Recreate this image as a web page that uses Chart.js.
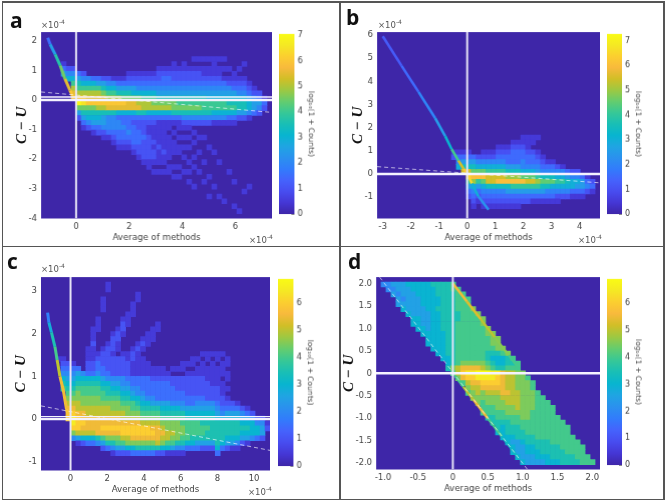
<!DOCTYPE html>
<html><head><meta charset="utf-8">
<script src="https://cdn.jsdelivr.net/npm/chart.js@4"></script>
<style>
html,body{margin:0;padding:0;background:#fff;width:668px;height:501px;overflow:hidden}
canvas{position:absolute;display:block;filter:blur(.55px)}
.frame{position:absolute;background:#555}
.tag{position:absolute;font:bold 21px "Open Sans",sans-serif;color:#111;line-height:21px}
.mult{position:absolute;font:8.5px "DejaVu Sans",sans-serif;color:#555;line-height:10px;white-space:nowrap}
.mult sup{font-size:6px;line-height:0}
</style></head><body>
<script>
// Parula colour stops, bottom to top of the colour bar
const parulaStops=[[62,38,168],[69,55,213],[72,77,240],[69,99,253],[50,124,252],[43,145,239],[32,165,227],[8,181,208],[25,191,182],[55,200,151],[100,205,111],[157,201,67],[209,191,39],[248,186,61],[252,207,48],[245,233,36],[249,251,21]];

// Binned counts, log10(1+counts), in half-unit steps (0-9 then a-e).
// Each entry is one column (or row in panel d): "firstBin:levels;firstBin:levels"
const aColumns=["","","","","6:135","7:246","7:2468abc","8:3578ace952","8:2468acd97531","9:468abc97642","9:368abc976531","9:358abca76532","9:2579bca755421","9:2468acb744431","9:1468acb7444321","9:1357acb63443321","9:13579cb63343321","8:123579bb63334321","8:123569bb632333321","8:123469ab7322333221","8:123468aa73222322221","8:123468aa632112222211","8:1234689a6321112122101","7:12234579a6311111211101","7:12334579a6311111121101","7:12334579a6311011111011","6:112234579973101011100101","7:12234578973110101100101","6:11;8:223457897421010101001","7:1223457897421;21:1;23:1;26:1;28:1;30:1","5:1;7:122345789742;20:1;22:1;25:1;27:1;31:1","5:1;7:122345789742;21:1;24:1;28:1","5:1;7:112345788742;21:1;26:1;30:1","5:1;7:112345688742;23:1;29:1;33:1","5:11;7:112345688641;24:1;31:1","5:1;7:112345688641;26:1;33:1","5:1;7:101345688641;34:1","7:101245678631;28:1","8:11235678631;30:1;35:1","7:1;9:123467752;36:1","6:1;9:123467752;32:1","10:12356641;31:1","11:124553","12:23542","13:132",""];
const aRidgeX=[-1.07,-0.98,-0.79,-0.6,-0.42,-0.23,-0.08];
const aRidgeY=[2.1,1.88,1.54,1.16,0.71,0.32,0.04];
const aRidgeLevel=[1.5,2.5,3.7,4.5,5.5,6,6.5];
const aDashX=[-1.32,7.38], aDashY=[0.27,-0.42];
const aZeroRows=[0,0.1];
const aXTicks=[0,2,4,6], aYTicks=[-4,-3,-2,-1,0,1,2], aBarTicks=[0,1,2,3,4,5,6,7];

const bColumns=["","","","","","","","","","","","","","","","24:12","24:1346","24:1357b","24:1357bd8532","25:3579ca64321","25:2469c85321","24:12469c964321","24:12468bb74321","24:12468bb74321","23:123468bc74321","23:123468bc74321","23:123357ac75321","22:1233357ac85321","22:1233357ac85321","21:112334469c8532","21:1;22:11233469b8532","21:11;24:233469b8531","21:1;24:123458a8531","25:1234797531","26:134797431","26:134796431","27:24686421","27:1468642","28:357642","28:246631","28:246531","29:35531","29:1342","30:231",""];
const bRidgeX=[-3,-2.33,-1.73,-1.14,-0.78,-0.55,-0.31,-0.13,0,0.17,0.4,0.76];
const bRidgeY=[5.95,4.67,3.55,2.42,1.64,1.07,0.58,0.23,0,-0.41,-0.97,-1.54];
const bRidgeLevel=[1.2,1.5,2,2.5,3.2,4.2,5.5,6.2,6.5,3,2.3,1.5];
const bDashX=[-3.2,4.72], bDashY=[0.32,-0.38];
const bZeroRows=[0];
const bXTicks=[-3,-2,-1,0,1,2,3,4], bYTicks=[-1,0,1,2,3,4,5,6], bBarTicks=[0,1,2,3,4,5,6,7];

const cColumns=["","","","16:1","16:1234678","17:23456789abbc","17:13456789abcddc94","18:3567899aabccca51","19:4678899abbcba62","14:111223;20:678899aabbba63","10:1112111223;20:678899aabbba63","8:111;15:12334;20:678899aabbbb74","4:111;14:122233;20:567889aabbcb852","1:11;13:1222223;20:467789aabbcb973","11:122212222;20:4567899abbcb9741","10:12211;16:2222;20:4567899abbcb9852","8:1221;15:12222;20:4456789aabcca852","7:111;15:11222;20:34567899abcca962","5:111;14:122111;20:33456889abccb963","3:11;13:1211111;20:33446789abccb973","12:12101111;20:333456789accb973","11:111;17:111;20:333346789accb973","10:111;18:11;20:233345789abcb973","9:11;18:11;20:233335789abbba72","18:11;20:2333356789aba962","19:123333567899aa861","18:1;20:22333467899a9851","18:1;20:2223346789999741","17:11;20:2223345788998741","17:1;19:1222233567888863","16:11;19:1222233567888763","16:1;18:11222234567888753","15:101;18:11222234567788752","15:11011;20:122224567787752","15:1011;19:1;20:112224567777752","15:11011;20:1122234567777763","15:1011;19:1;21:11122346777763","16:11;19:11;22:1;24:12356777652","25:2356777651","25:1356777641","26:24567652","26:13567651","27:246664","28:24663","28:24552","29:12"];
const cRidgeX=[-1.25,-1.18,-1.04,-0.85,-0.73,-0.58,-0.4,-0.22,-0.07];
const cRidgeY=[2.49,2.26,2.03,1.69,1.38,1,0.69,0.23,0.04];
const cRidgeLevel=[1.8,2.8,3.5,4,5,5.5,5.5,5.8,6];
const cDashX=[-1.61,10.87], cDashY=[0.31,-0.73];
const cZeroRows=[0,0.06];
const cXTicks=[0,2,4,6,8,10], cYTicks=[-1,0,1,2,3], cBarTicks=[0,1,2,3,4,5,6];

const dRows=["","1:445556666677778","2:445556666677788","3:545556666777788","4:545556666777888","4:555556666777888","5:655556677778889","6:655556677778889","7:665566777788889","7:665566777888889","8:665667778888889","9:666667788888899","10:666677888888899","10:666677888888899","11:666778888888899","12:667788888877789","13:667888888766678","14:678999998766778","14:79abbbba9877888","15:8acddeeeddbaa99","16:9bccddddcbaa998","17:8abbccccbaa9998","18:9aabbbbbaa9998","18:89a9aaabbaa9998","19:999999aaaa99988","20:989999aaa999888","21:8889999a9998888","21:888889999988888","22:778888899888888","23:777788888888888","24:767778888888888","24:667777888888888","25:666777788888888","26:655677777888888","27:655667777788888","27:655666777778888","28:655566677777888","29:655556667777888",""];
const dRightEdgeX=[0,0.2,0.4,0.6,0.8,0.95], dRightEdgeY=[2,1.6,1.2,0.8,0.4,0.1], dRightEdgeLevel=[5.5,5.3,5,4.6,4,3.8];
const dLeftEdgeX=[0.03,0.15,0.3,0.5,0.7,0.95], dLeftEdgeY=[-0.06,-0.3,-0.6,-1,-1.4,-1.9], dLeftEdgeLevel=[4,5,5.5,4,3.2,2.8];
const dDashX=[-1.05,1.07], dDashY=[2.14,-2.14];
const dZeroRows=[0];
const dXTicks=[-1,-0.5,0,0.5,1,1.5,2], dYTicks=[-2,-1.5,-1,-0.5,0,0.5,1,1.5,2], dBarTicks=[0,1,2,3,4,5,6];

const xAxisLabel="Average of methods", yAxisLabel="C − U", barLabel="log₁₀(1 + Counts)";
const TEXT="#444", FONT='"DejaVu Sans",sans-serif', CELL=3.95;

function parula(t){
  t=Math.max(0,Math.min(1,t))*(parulaStops.length-1);
  const i=Math.min(parulaStops.length-2,Math.floor(t)),f=t-i,a=parulaStops[i],b=parulaStops[i+1];
  return `rgb(${a.map((v,k)=>Math.round(v+(b[k]-v)*f)).join(",")})`;
}
function cells(strs,nCols,nRows,xr,yr,byRow){
  const out=[],dx=(xr[1]-xr[0])/nCols,dy=(yr[1]-yr[0])/nRows;
  strs.forEach((s,outer)=>{ if(!s)return;
    s.split(";").forEach(run=>{const [st,lv]=run.split(":");
      [...lv].forEach((ch,k)=>{const v=parseInt(ch,16)*0.5; if(!v)return;
        const inner=+st+k,col=byRow?inner:outer,row=byRow?outer:inner;
        out.push({x:xr[0]+(col+.5)*dx,y:yr[1]-(row+.5)*dy,v});});});});
  return out;
}
const plotBg={id:"plotBg",beforeDatasetsDraw(c){const a=c.chartArea,g=c.ctx;g.save();g.fillStyle=parula(0);g.fillRect(a.left,a.top,a.right-a.left,a.bottom-a.top);g.restore();}};
function mk(left,top,w,h){const cv=document.createElement("canvas");cv.width=w;cv.height=h;cv.style.left=left+"px";cv.style.top=top+"px";cv.style.width=w+"px";cv.style.height=h+"px";document.body.appendChild(cv);return cv;}
function panel(p){
  const [L,T,R,B]=p.box, cmax=p.cmax, hx=[p.xr[0],p.xr[1]], hy=[p.yr[0],p.yr[1]];
  const left=L-p.axisW, axisH=24.5, H=B-T+axisH+6, W=p.axisW+(R-L)+6;
  const ds=[];
  p.zeroY.forEach(y=>ds.push({data:[{x:hx[0],y},{x:hx[1],y}],showLine:true,borderColor:"#F4F2FF",borderWidth:y===0?2.4:1.4,pointRadius:0,order:1}));
  ds.push({data:[{x:0,y:hy[0]},{x:0,y:hy[1]}],showLine:true,borderColor:"#E6E3F6",borderWidth:2,pointRadius:0,order:1});
  ds.push({data:p.dashX.map((x,i)=>({x,y:p.dashY[i]})),showLine:true,borderColor:"rgba(255,255,255,.8)",borderWidth:0.8,borderDash:[4,3],pointRadius:0,order:2});
  (p.ridges||[]).forEach(r=>ds.push({data:r.x.map((x,i)=>({x,y:r.y[i]})),showLine:true,borderWidth:r.w||3,pointRadius:0,order:3,
    segment:{borderColor:c=>parula(r.l[c.p0DataIndex]/cmax)},borderColor:parula(.4)}));
  const pts=cells(p.data,p.nCols,p.nRows,hx,hy,p.byRow);
  ds.push({data:pts,pointStyle:"rect",pointRadius:CELL,pointHoverRadius:CELL,pointBorderWidth:0,
    pointBackgroundColor:pts.map(q=>parula(q.v/cmax)),order:4});
  new Chart(mk(left,T-6,W,H),{type:"scatter",data:{datasets:ds},plugins:[plotBg],options:{
    responsive:false,animation:false,events:[],
    layout:{padding:{top:6,right:6,left:0,bottom:0}},
    plugins:{legend:{display:false},tooltip:{enabled:false}},
    scales:{
      x:{type:"linear",min:hx[0],max:hx[1],grid:{display:false,drawTicks:false},border:{display:false},
        afterBuildTicks:s=>{s.ticks=p.xt.map(value=>({value}));},
        afterFit:s=>{s.height=axisH;},
        ticks:{autoSkip:false,maxRotation:0,padding:3,color:TEXT,font:{family:FONT,size:8.5}},
        title:{display:true,text:xAxisLabel,color:TEXT,padding:0,font:{family:FONT,size:8.7}}},
      y:{type:"linear",min:hy[0],max:hy[1],grid:{display:false,drawTicks:false},border:{display:false},
        afterBuildTicks:s=>{s.ticks=p.yt.map(value=>({value}));},
        afterFit:s=>{s.width=p.axisW;},
        ticks:{autoSkip:false,padding:4,color:TEXT,font:{family:FONT,size:8.5}},
        title:{display:true,text:yAxisLabel,color:"#111",padding:0,font:{family:'"Liberation Serif",serif',size:15,weight:"bold",style:"italic"}}}
    }}});
  // colour bar
  const [bl,br]=p.bar, bw=br-bl+20;
  new Chart(mk(bl,T-6,bw,B-T+12),{type:"bar",data:{labels:[""],datasets:[{data:[[0,cmax]],barPercentage:1,categoryPercentage:1,
    backgroundColor:c=>{const a=c.chart.chartArea; if(!a)return parula(.5);
      const g=c.chart.ctx.createLinearGradient(0,a.bottom,0,a.top);
      parulaStops.forEach((s,i)=>g.addColorStop(i/(parulaStops.length-1),`rgb(${s.join(",")})`));return g;}}]},
    options:{responsive:false,animation:false,events:[],layout:{padding:{top:6,bottom:6}},
      plugins:{legend:{display:false},tooltip:{enabled:false}},
      scales:{x:{display:false},
        y:{position:"right",min:0,max:cmax,grid:{display:true,drawOnChartArea:false,tickLength:-3,color:"#444",lineWidth:.6},border:{display:false},
          afterBuildTicks:s=>{s.ticks=p.bt.map(value=>({value}));},
          afterFit:s=>{s.width=20;},
          ticks:{autoSkip:false,padding:6,color:TEXT,font:{family:FONT,size:8}},
          title:{display:true,text:barLabel,color:TEXT,padding:0,font:{family:FONT,size:7.5}}}}}});
}
panel({box:[41,29.3,271.7,219],xr:[-1.32,7.38],yr:[-4,2.29],nCols:46,nRows:38,data:aColumns,ridges:[{x:aRidgeX,y:aRidgeY,l:aRidgeLevel}],dashX:aDashX,dashY:aDashY,zeroY:aZeroRows,xt:aXTicks,yt:aYTicks,bt:aBarTicks,cmax:7.05,bar:[279.3,295],axisW:28});
panel({box:[377,29.3,599.7,219],xr:[-3.2,4.72],yr:[-1.92,6.13],nCols:45,nRows:38,data:bColumns,ridges:[{x:bRidgeX,y:bRidgeY,l:bRidgeLevel,w:2.6}],dashX:bDashX,dashY:bDashY,zeroY:bZeroRows,xt:bXTicks,yt:bYTicks,bt:bBarTicks,cmax:7.28,bar:[607.3,622.3],axisW:28});
panel({box:[41,274,270.3,470.7],xr:[-1.61,10.87],yr:[-1.2,3.32],nCols:46,nRows:39,data:cColumns,ridges:[{x:cRidgeX,y:cRidgeY,l:cRidgeLevel}],dashX:cDashX,dashY:cDashY,zeroY:cZeroRows,xt:cXTicks,yt:cYTicks,bt:cBarTicks,cmax:6.88,bar:[278.3,294],axisW:29});
panel({box:[376.3,274.3,599.7,470],xr:[-1.1,2.11],yr:[-2.14,2.14],nCols:45,nRows:39,data:dRows,byRow:true,ridges:[{x:dRightEdgeX,y:dRightEdgeY,l:dRightEdgeLevel,w:2.5},{x:dLeftEdgeX,y:dLeftEdgeY,l:dLeftEdgeLevel,w:2.5}],dashX:dDashX,dashY:dDashY,zeroY:dZeroRows,xt:dXTicks,yt:dYTicks,bt:dBarTicks,cmax:6.9,bar:[607.3,622.3],axisW:36});

[[2,1,662,1.6],[2,245.5,662,1.6],[2,498.5,662,1.6],[1.5,1,1.6,499],[339,1,1.6,499],[663,1,1.6,499]].forEach(f=>{
  const d=document.createElement("div");d.className="frame";d.style.cssText=`left:${f[0]}px;top:${f[1]}px;width:${f[2]}px;height:${f[3]}px`;document.body.appendChild(d);});
[["a",10,10],["b",346,7],["c",7,251],["d",348,251]].forEach(t=>{
  const d=document.createElement("div");d.className="tag";d.textContent=t[0];d.style.left=t[1]+"px";d.style.top=t[2]+"px";document.body.appendChild(d);});
[[41,20],[249,235],[378,20],[578,235],[41,264],[248,487]].forEach(m=>{
  const d=document.createElement("div");d.className="mult";d.innerHTML="×10<sup>-4</sup>";d.style.left=m[0]+"px";d.style.top=m[1]+"px";document.body.appendChild(d);});
</script>
</body></html>
